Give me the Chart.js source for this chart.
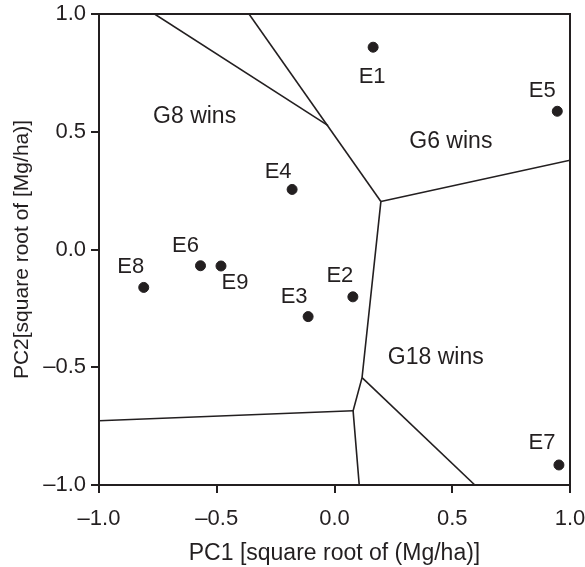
<!DOCTYPE html>
<html>
<head>
<meta charset="UTF-8" />
<title>GGE biplot – which-won-where</title>
<script src="https://cdn.jsdelivr.net/npm/chart.js"></script>
<style>
  html, body { margin:0; padding:0; background:#fff; }
  #wrap { width:585px; height:567px; }
</style>
</head>
<body>
<div id="wrap"><canvas id="chart"></canvas></div>

<script>
// ---- data ----
const envNames = ['E1', 'E2', 'E3', 'E4', 'E5', 'E6', 'E7', 'E8', 'E9'];
const envPC1   = [0.164, 0.078, -0.112, -0.180, 0.946, -0.569, 0.953, -0.810, -0.482];
const envPC2   = [0.859, -0.201, -0.285, 0.255, 0.587, -0.069, -0.915, -0.161, -0.070];

// sector boundaries, each one a polyline of [PC1, PC2]
const boundaryLines = [
  [[-0.764, 1.0], [-0.027, 0.526]],
  [[-0.363, 1.0], [0.197, 0.204]],
  [[0.197, 0.204], [1.0, 0.379]],
  [[0.197, 0.204], [0.117, -0.544], [0.079, -0.685], [0.105, -1.0]],
  [[-1.0, -0.727], [0.079, -0.685]],
  [[0.117, -0.544], [0.596, -1.0]]
];

const sectorNames = ['G8 wins', 'G6 wins', 'G18 wins'];
const sectorPC1   = [-0.594, 0.494, 0.430];
const sectorPC2   = [0.564, 0.458, -0.460];

const tickValues = [-1.0, -0.5, 0.0, 0.5, 1.0];

// ---- look ----
const ink  = '#231f20';
const font = 'Liberation Sans, Arial, sans-serif';
// label offset from its dot, in pixels
const labelShift = {
  E1:[-1, 30], E2:[-13, -21], E3:[-14, -20], E4:[-14, -18], E5:[-15, -20],
  E6:[-15, -20], E7:[-17, -22], E8:[-13, -20], E9:[14, 17]
};

const fmt = v => v.toFixed(1).replace('-', '\u2013');

const datasets = boundaryLines.map(line => ({
  type: 'line',
  data: line.map(p => ({ x: p[0], y: p[1] })),
  borderColor: ink,
  borderWidth: 1.6,
  pointRadius: 0,
  fill: false,
  tension: 0
}));

datasets.push({
  type: 'scatter',
  data: envNames.map((n, i) => ({ x: envPC1[i], y: envPC2[i] })),
  backgroundColor: ink,
  borderColor: ink,
  pointRadius: 5
});

// frame + text
const textPlugin = {
  id: 'textPlugin',
  afterDatasetsDraw(chart) {
    const { ctx, chartArea: a, scales: { x, y } } = chart;
    ctx.save();
    ctx.strokeStyle = ink;
    ctx.lineWidth = 2;
    ctx.strokeRect(a.left, a.top, a.right - a.left, a.bottom - a.top);

    ctx.fillStyle = ink;
    ctx.textAlign = 'center';
    ctx.textBaseline = 'middle';
    ctx.font = '22px ' + font;
    envNames.forEach((n, i) => {
      const d = labelShift[n];
      ctx.fillText(n, x.getPixelForValue(envPC1[i]) + d[0], y.getPixelForValue(envPC2[i]) + d[1]);
    });
    ctx.font = '23px ' + font;
    sectorNames.forEach((n, i) => {
      ctx.fillText(n, x.getPixelForValue(sectorPC1[i]), y.getPixelForValue(sectorPC2[i]));
    });
    ctx.restore();
  }
};

const axisTicks = {
  min: -1, max: 1,
  afterBuildTicks: s => { s.ticks = tickValues.map(v => ({ value: v })); },
  grid: { drawOnChartArea: false, drawTicks: true, tickLength: 8, color: ink, lineWidth: 2 },
  border: { display: false }
};

new Chart(document.getElementById('chart'), {
  type: 'scatter',
  data: { datasets },
  options: {
    responsive: true,
    maintainAspectRatio: false,
    animation: false,
    layout: { padding: { top: 14, right: 15, left: 0, bottom: 0 } },
    plugins: { legend: { display: false }, tooltip: { enabled: false } },
    scales: {
      x: {
        ...axisTicks,
        afterFit: s => { s.height = 82; s.paddingLeft = 0; s.paddingRight = 0; },
        ticks: { color: ink, font: { family: font, size: 22 }, padding: 13, callback: fmt, maxRotation: 0 },
        title: { display: true, text: 'PC1 [square root of (Mg/ha)]', color: ink,
                 font: { family: font, size: 23 }, padding: { top: 0, bottom: 0 } }
      },
      y: {
        ...axisTicks,
        afterFit: s => { s.width = 99; s.paddingTop = 0; s.paddingBottom = 0; },
        ticks: { color: ink, font: { family: font, size: 22 }, padding: 5, callback: fmt },
        title: { display: true, text: 'PC2[square root of [Mg/ha)]', color: ink,
                 font: { family: font, size: 21 }, padding: { top: 10, bottom: 0 } }
      }
    }
  },
  plugins: [textPlugin]
});
</script>
</body>
</html>
